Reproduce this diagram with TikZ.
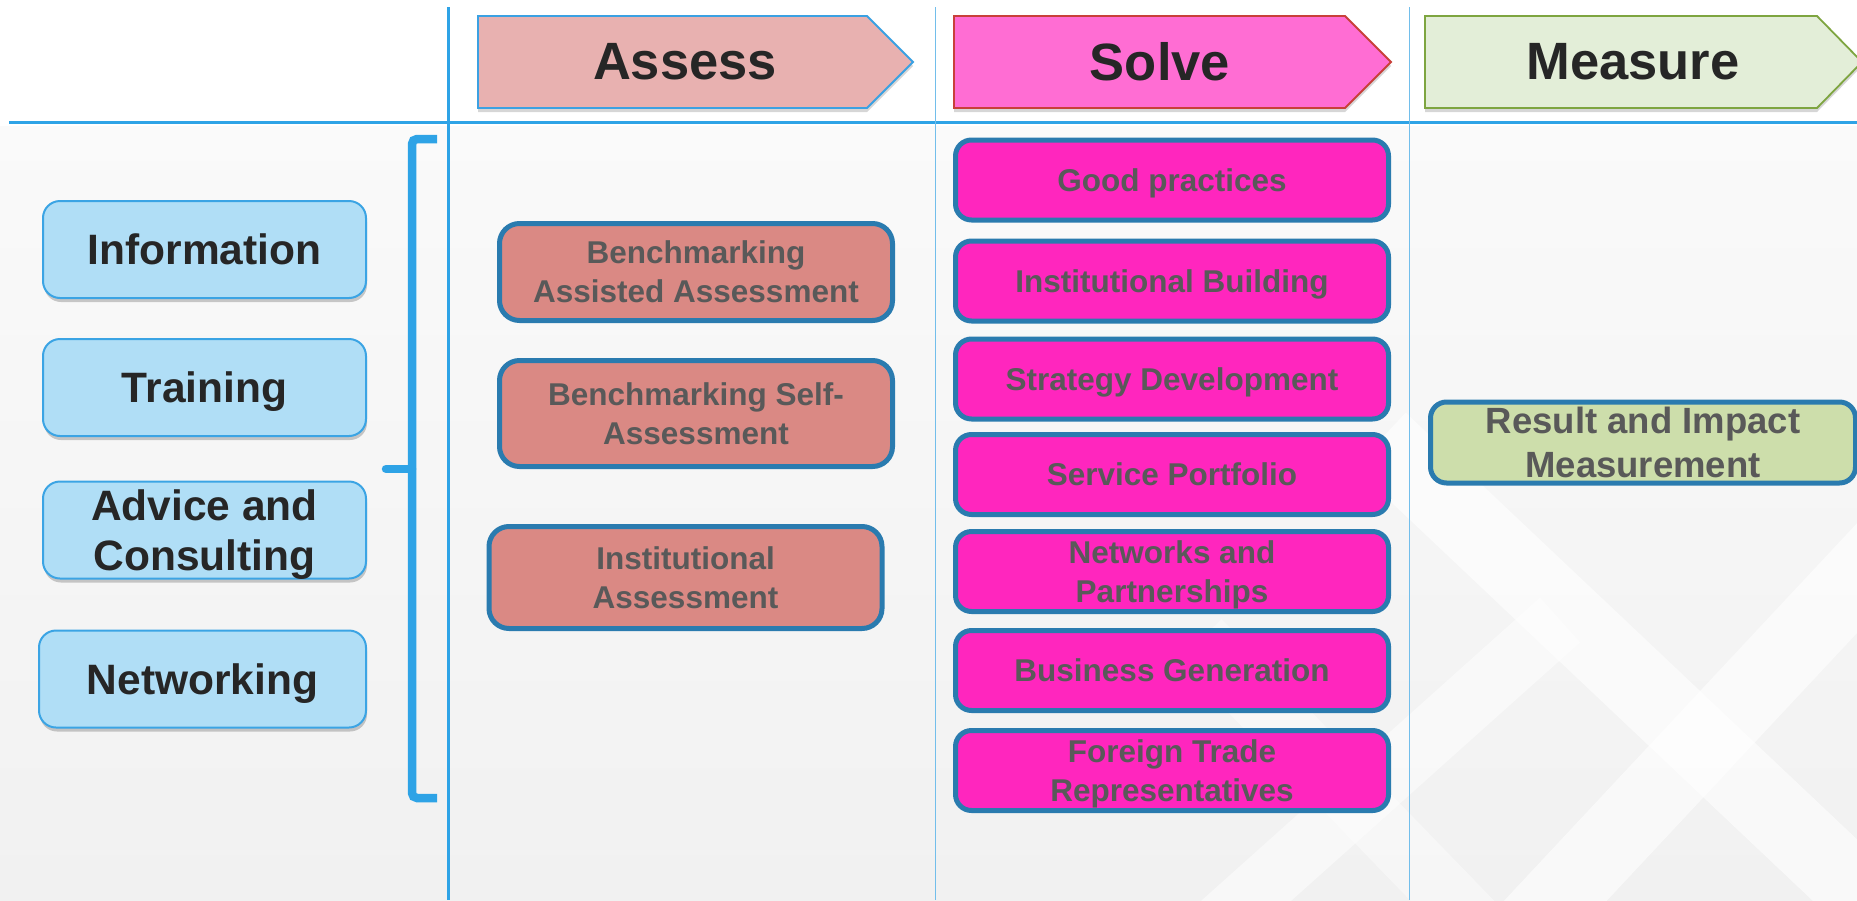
\documentclass[tikz,border=0pt]{standalone}
\usepackage{fontspec}
\setmainfont{Liberation Sans}
\usetikzlibrary{shadows}

\definecolor{rulecol}{HTML}{2EA3E6}
\definecolor{thinrule}{HTML}{72BEEB}
\definecolor{sidefill}{HTML}{B0DEF6}
\definecolor{sideedge}{HTML}{3BA4E4}
\definecolor{ink}{HTML}{262626}
\definecolor{boxtext}{HTML}{595959}
\definecolor{boxedge}{HTML}{2A7BAF}
\definecolor{assessfill}{HTML}{DA8984}
\definecolor{solvefill}{HTML}{FF26BE}
\definecolor{resultfill}{HTML}{CDDEAB}
\definecolor{hassessfill}{HTML}{E8B1B0}
\definecolor{hassessedge}{HTML}{3BA1E2}
\definecolor{hsolvefill}{HTML}{FF6DD3}
\definecolor{hsolveedge}{HTML}{C8403A}
\definecolor{hmeasurefill}{HTML}{E3EED8}
\definecolor{hmeasureedge}{HTML}{7EA540}

\begin{document}
\begin{tikzpicture}[x=1pt,y=-1pt,
  softshadow/.style={drop shadow={shadow xshift=1pt,shadow yshift=-4pt,opacity=0.2,fill=black}},
  header/.style={line width=1.8pt,drop shadow={shadow xshift=0pt,shadow yshift=-4pt,opacity=0.16,fill=black}},
  headtext/.style={inner sep=0pt,text=ink,font=\fontsize{52.5}{60}\selectfont\bfseries},
  sidebox/.style={rounded corners=17pt,draw=sideedge,line width=2pt,fill=sidefill,
    minimum width=323pt,minimum height=97pt,inner sep=0pt,align=center,text=ink,
    font=\fontsize{42.5}{50}\selectfont\bfseries,softshadow},
  sideone/.style={sidebox,text height=30.4pt,text depth=0pt},
  sidetwo/.style={sidebox,text height=80.4pt,text depth=0pt},
  colbox/.style={draw=boxedge,line width=5pt,inner sep=0pt,align=center,text=boxtext,
    font=\fontsize{31.5}{39}\selectfont\bfseries},
  colone/.style={text height=22.6pt,text depth=0pt},
  coltwo/.style={text height=61.6pt,text depth=0pt},
  assessbox/.style={colbox,coltwo,rounded corners=20pt,fill=assessfill,minimum width=393pt},
  solvebox/.style={colbox,rounded corners=16pt,fill=solvefill,minimum width=433pt,minimum height=80pt},
  resultbox/.style={colbox,rounded corners=16pt,fill=resultfill,minimum width=425pt,minimum height=81pt,
    font=\fontsize{36.5}{44}\selectfont\bfseries,text height=70.1pt,text depth=0pt},
  brace/.style={draw=rulecol,line width=8.5pt}
]
\useasboundingbox (0,0) rectangle (1857,900);

% page background: white header strip, soft grey body
\fill[white] (0,0) rectangle (1857,900);
\shade[top color=white!98!black,bottom color=white!94.5!black] (0,126) rectangle (1857,900);

% faint lattice watermark in the lower right
\begin{scope}
  \clip (1190,126) rectangle (1857,900);
  \draw[white,line width=75pt,opacity=0.6] (1500,960) -- (1930,500);
  \draw[white,line width=75pt,opacity=0.6] (1380,440) -- (1930,960);
  \draw[white,line width=60pt,opacity=0.5] (1180,960) -- (1560,620);
  \draw[white,line width=60pt,opacity=0.4] (1200,640) -- (1500,950);
\end{scope}

% grid rules
\draw[rulecol,line width=3.5pt] (9,122.5) -- (1857,122.5);
\draw[rulecol,line width=3pt] (448,7) -- (448,900);
\draw[thinrule,line width=1.3pt] (935.5,7) -- (935.5,900);
\draw[thinrule,line width=1.3pt] (1409.5,7) -- (1409.5,900);

% phase headers
\filldraw[header,fill=hassessfill,draw=hassessedge]
  (478,16) -- (867,16) -- (913,62) -- (867,108) -- (478,108) -- cycle;
\filldraw[header,fill=hsolvefill,draw=hsolveedge]
  (954,16) -- (1345,16) -- (1391,62) -- (1345,108) -- (954,108) -- cycle;
\filldraw[header,fill=hmeasurefill,draw=hmeasureedge]
  (1425,16) -- (1817,16) -- (1862,62) -- (1817,108) -- (1425,108) -- cycle;
\node[headtext] (hassess) at (685,62) {Assess};
\node[headtext] (hsolve) at (1160,62) {Solve};
\node[headtext] (hmeasure) at (1633,62) {Measure};

% service types
\node[sideone] (info) at (204.5,249.5) {Information};
\node[sideone] (train) at (204.5,387.5) {Training};
\node[sidetwo] (advice) at (204.5,530) {Advice and\\Consulting};
\node[sideone,minimum width=327pt] (netw) at (202.5,679) {Networking};

% bracket grouping the service types
\draw[brace,rounded corners=5pt] (437,139) -- (412,139) -- (412,798) -- (437,798);
\draw[brace,line cap=round] (412,469) -- (386,469);

% assess column
\node[assessbox,minimum height=97pt] (bench1) at (696,272) {Benchmarking\\Assisted Assessment};
\node[assessbox,minimum height=106pt] (bench2) at (696,413.5) {Benchmarking Self-\\Assessment};
\node[assessbox,minimum height=102pt] (instass) at (685.5,577.5) {Institutional\\Assessment};

% solve column
\node[solvebox,colone] (good) at (1172,180) {Good practices};
\node[solvebox,colone] (instb) at (1172,281) {Institutional Building};
\node[solvebox,colone] (strat) at (1172,379) {Strategy Development};
\node[solvebox,colone] (serv) at (1172,474.5) {Service Portfolio};
\node[solvebox,coltwo] (netpart) at (1172,571.5) {Networks and\\Partnerships};
\node[solvebox,colone] (busgen) at (1172,670.5) {Business Generation};
\node[solvebox,coltwo] (ftrade) at (1172,770.5) {Foreign Trade\\Representatives};

% measure column
\node[resultbox] (result) at (1643,442.5) {Result and Impact\\Measurement};
\end{tikzpicture}
\end{document}
